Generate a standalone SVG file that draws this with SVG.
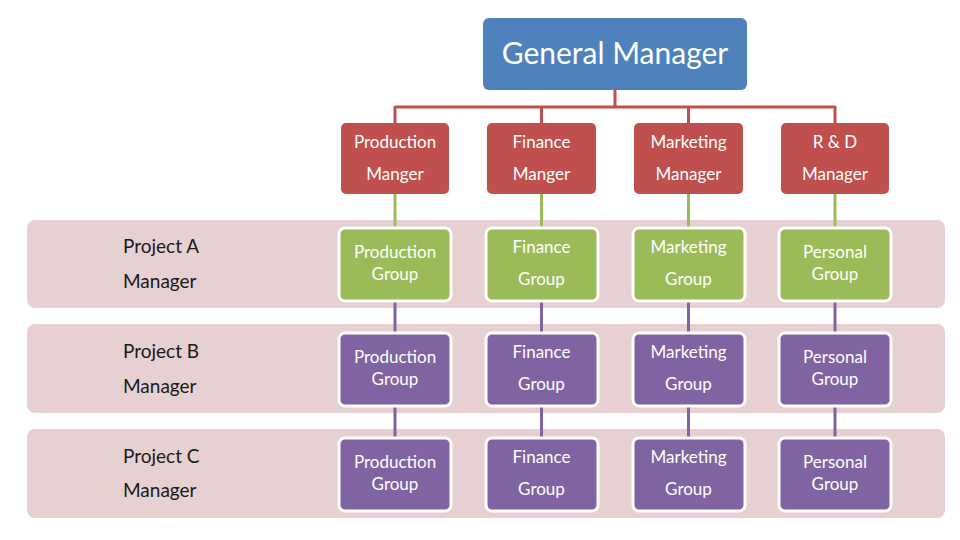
<svg xmlns="http://www.w3.org/2000/svg" width="960" height="540" viewBox="0 0 960 540">
<style>
text{font-family:Lato,"Open Sans","Liberation Sans",sans-serif;text-anchor:middle}
.band{fill:#E6D0D1}
.gm{fill:#4F81BD}
.red{fill:#C0504D}
.grn{fill:#9BBB59;stroke:#fff;stroke-width:3}
.pur{fill:#8064A2;stroke:#fff;stroke-width:3}
.wt{fill:#fff;font-size:17px}
.lbl{fill:#1a1a1a;font-size:19px;text-anchor:start}
.cr{stroke:#C0504D;stroke-width:3;fill:none}
.cg{stroke:#9BBB59;stroke-width:3;fill:none}
.cp{stroke:#8064A2;stroke-width:3;fill:none}
</style>
<rect width="960" height="540" fill="#fff"/>
<g id="bands">
<g id="bandA"><rect class="band" x="27" y="220" width="918" height="88" rx="8"/><text class="lbl" x="123" y="253">Project A</text><text class="lbl" x="123" y="288">Manager</text></g>
<g id="bandB"><rect class="band" x="27" y="324" width="918" height="89" rx="8"/><text class="lbl" x="123" y="358">Project B</text><text class="lbl" x="123" y="393">Manager</text></g>
<g id="bandC"><rect class="band" x="27" y="429" width="918" height="89" rx="8"/><text class="lbl" x="123" y="463">Project C</text><text class="lbl" x="123" y="497">Manager</text></g>
</g>
<g id="connectors">
<path class="cr" d="M615 90V107M395 107H835M395 106V123M541.5 106V123M688.5 106V123M835 106V123"/>
<path class="cg" d="M395 194V227M541.5 194V227M688.5 194V227M835 194V227"/>
<path class="cp" d="M395 302V332M541.5 302V332M688.5 302V332M835 302V332M395 407V437M541.5 407V437M688.5 407V437M835 407V437"/>
</g>
<g id="gm"><rect class="gm" x="483" y="18" width="264" height="72" rx="6"/><text x="615" y="64" fill="#fff" font-size="30">General Manager</text></g>
<g id="prodMgr"><rect class="red" x="341" y="123" width="108" height="71" rx="5"/><text class="wt" x="395" y="148">Production</text><text class="wt" x="395" y="180">Manger</text></g>
<g id="finMgr"><rect class="red" x="487" y="123" width="109" height="71" rx="5"/><text class="wt" x="541.5" y="148">Finance</text><text class="wt" x="541.5" y="180">Manger</text></g>
<g id="mktMgr"><rect class="red" x="634" y="123" width="109" height="71" rx="5"/><text class="wt" x="688.5" y="148">Marketing</text><text class="wt" x="688.5" y="180">Manager</text></g>
<g id="rdMgr"><rect class="red" x="781" y="123" width="108" height="71" rx="5"/><text class="wt" x="835" y="148">R &amp; D</text><text class="wt" x="835" y="180">Manager</text></g>
<g id="prodA"><rect class="grn" x="339" y="228" width="112" height="73" rx="6"/><text class="wt" x="395" y="258">Production</text><text class="wt" x="395" y="280">Group</text></g>
<g id="finA"><rect class="grn" x="486" y="228" width="112" height="73" rx="6"/><text class="wt" x="541.5" y="253">Finance</text><text class="wt" x="541.5" y="285">Group</text></g>
<g id="mktA"><rect class="grn" x="633" y="228" width="112" height="73" rx="6"/><text class="wt" x="688.5" y="253">Marketing</text><text class="wt" x="688.5" y="285">Group</text></g>
<g id="perA"><rect class="grn" x="779" y="228" width="112" height="73" rx="6"/><text class="wt" x="835" y="258">Personal</text><text class="wt" x="835" y="280">Group</text></g>
<g id="prodB"><rect class="pur" x="339" y="333" width="112" height="73" rx="6"/><text class="wt" x="395" y="363">Production</text><text class="wt" x="395" y="385">Group</text></g>
<g id="finB"><rect class="pur" x="486" y="333" width="112" height="73" rx="6"/><text class="wt" x="541.5" y="358">Finance</text><text class="wt" x="541.5" y="390">Group</text></g>
<g id="mktB"><rect class="pur" x="633" y="333" width="112" height="73" rx="6"/><text class="wt" x="688.5" y="358">Marketing</text><text class="wt" x="688.5" y="390">Group</text></g>
<g id="perB"><rect class="pur" x="779" y="333" width="112" height="73" rx="6"/><text class="wt" x="835" y="363">Personal</text><text class="wt" x="835" y="385">Group</text></g>
<g id="prodC"><rect class="pur" x="339" y="438" width="112" height="73" rx="6"/><text class="wt" x="395" y="468">Production</text><text class="wt" x="395" y="490">Group</text></g>
<g id="finC"><rect class="pur" x="486" y="438" width="112" height="73" rx="6"/><text class="wt" x="541.5" y="463">Finance</text><text class="wt" x="541.5" y="495">Group</text></g>
<g id="mktC"><rect class="pur" x="633" y="438" width="112" height="73" rx="6"/><text class="wt" x="688.5" y="463">Marketing</text><text class="wt" x="688.5" y="495">Group</text></g>
<g id="perC"><rect class="pur" x="779" y="438" width="112" height="73" rx="6"/><text class="wt" x="835" y="468">Personal</text><text class="wt" x="835" y="490">Group</text></g>
</svg>
